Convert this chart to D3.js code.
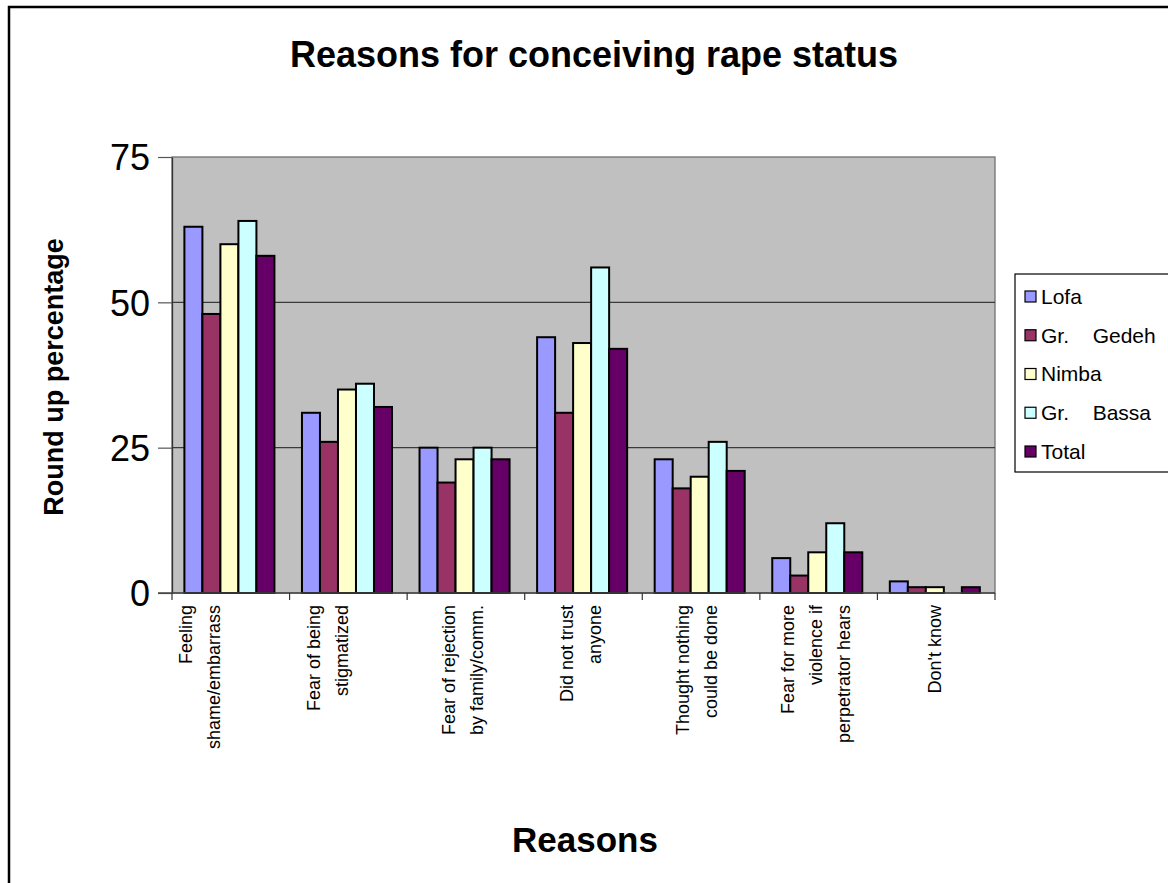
<!DOCTYPE html>
<html>
<head>
<meta charset="utf-8">
<script src="https://cdn.jsdelivr.net/npm/d3@7"></script>
<style>
  html, body { margin: 0; padding: 0; background: #fff; }
  svg { display: block; font-family: "Liberation Sans", Arial, sans-serif; }
</style>
</head>
<body>
<svg id="chart" width="1168" height="883"></svg>
<script>
// Reasons given for not disclosing rape, by county (rounded percentages)
const categories = [
  ["Feeling", "shame/embarrass"],
  ["Fear of being", "stigmatized"],
  ["Fear of rejection", "by family/comm."],
  ["Did not trust", "anyone"],
  ["Thought nothing", "could be done"],
  ["Fear for more", "violence if", "perpetrator hears"],
  ["Don't know"]
];
const seriesNames = ["Lofa", "Gr.  Gedeh", "Nimba", "Gr.  Bassa", "Total"];
const lofa   = [63, 31, 25, 44, 23, 6, 2];
const gedeh  = [48, 26, 19, 31, 18, 3, 1];
const nimba  = [60, 35, 23, 43, 20, 7, 1];
const bassa  = [64, 36, 25, 56, 26, 12, 0];
const total  = [58, 32, 23, 42, 21, 7, 1];
const seriesColors = ["#9999FF", "#993366", "#FFFFCC", "#CCFFFF", "#660066"];
const yTicks = [0, 25, 50, 75];

// horizontal nudge of each wrapped category label block (px)
const labelNudge = [-31, -21, -3, -3, -4, -3, -2];

const seriesValues = [lofa, gedeh, nimba, bassa, total];
const svg = d3.select("#chart");

// outer frame
svg.append("rect")
  .attr("x", 9).attr("y", 7).attr("width", 1180).attr("height", 900)
  .attr("fill", "#fff").attr("stroke", "#000").attr("stroke-width", 2.5);

const plot = { left: 172, right: 995, top: 157, bottom: 593 };

const x0 = d3.scaleBand()
  .domain(d3.range(categories.length))
  .range([plot.left, plot.right])
  .paddingInner(0).paddingOuter(0);

const x1 = d3.scaleBand()
  .domain(d3.range(seriesNames.length))
  .range([0, x0.bandwidth()])
  .paddingInner(0).paddingOuter(0.765).align(0.45);

const y = d3.scaleLinear().domain([0, 75]).range([plot.bottom, plot.top]);

// plot background
svg.append("rect")
  .attr("x", plot.left).attr("y", plot.top)
  .attr("width", plot.right - plot.left).attr("height", plot.bottom - plot.top)
  .attr("fill", "#C0C0C0").attr("stroke", "#707070").attr("stroke-width", 1.3);

// gridlines
svg.append("g").selectAll("line")
  .data(yTicks.filter(t => t > 0 && t < 75))
  .join("line")
  .attr("x1", plot.left).attr("x2", plot.right)
  .attr("y1", d => y(d)).attr("y2", d => y(d))
  .attr("stroke", "#3a3a3a").attr("stroke-width", 1.2);

// y axis
const yAxis = svg.append("g")
  .attr("transform", `translate(${plot.left},0)`)
  .call(d3.axisLeft(y).tickValues(yTicks).tickSize(14).tickPadding(8).tickSizeOuter(0));
yAxis.select(".domain").attr("stroke", "#333").attr("stroke-width", 1.3);
yAxis.selectAll(".tick line").attr("stroke", "#555").attr("stroke-width", 1.2);
yAxis.selectAll(".tick text")
  .attr("font-size", 36).attr("fill", "#000")
  .attr("font-family", "'Liberation Sans', Arial, sans-serif")
  .attr("dy", "0.36em");

// bars
const groups = svg.append("g").selectAll("g")
  .data(categories.map((c, i) => i))
  .join("g")
  .attr("transform", i => `translate(${x0(i)},0)`);

groups.selectAll("rect")
  .data(i => seriesValues.map((vals, s) => ({ s, v: vals[i] })))
  .join("rect")
  .filter(d => d.v > 0)
  .attr("x", d => x1(d.s))
  .attr("width", x1.bandwidth())
  .attr("y", d => y(d.v))
  .attr("height", d => y(0) - y(d.v))
  .attr("fill", d => seriesColors[d.s])
  .attr("stroke", "#000").attr("stroke-width", 2);

// x axis
const xAxis = svg.append("g")
  .attr("transform", `translate(0,${plot.bottom})`);
xAxis.append("line")
  .attr("x1", plot.left - 14).attr("x2", plot.right)
  .attr("stroke", "#444").attr("stroke-width", 1.4);
xAxis.selectAll("line.tick")
  .data(d3.range(categories.length + 1))
  .join("line").attr("class", "tick")
  .attr("x1", i => plot.left + i * x0.step()).attr("x2", i => plot.left + i * x0.step())
  .attr("y1", 0).attr("y2", 7)
  .attr("stroke", "#333").attr("stroke-width", 1.2);

// rotated category labels
const lineGap = 28;
svg.append("g").selectAll("text")
  .data(categories.map((c, i) => ({ c, i })))
  .join("text")
  .attr("font-size", 18)
  .attr("fill", "#000")
  .attr("text-anchor", "end")
  .each(function (d) {
    const cx = x0(d.i) + x0.bandwidth() / 2 + labelNudge[d.i];
    const n = d.c.length;
    d3.select(this).selectAll("tspan")
      .data(d.c)
      .join("tspan")
      .attr("x", -605)
      .attr("y", (t, k) => cx + (k - (n - 1) / 2) * lineGap)
      .attr("dy", "0.35em")
      .text(t => t);
  })
  .attr("transform", "rotate(-90)");

// titles
svg.append("text")
  .attr("x", 594).attr("y", 67)
  .attr("text-anchor", "middle")
  .attr("font-size", 36).attr("font-weight", "bold")
  .text("Reasons for conceiving rape status");

svg.append("text")
  .attr("x", 585).attr("y", 852)
  .attr("text-anchor", "middle")
  .attr("font-size", 35).attr("font-weight", "bold")
  .text("Reasons");

svg.append("text")
  .attr("transform", "translate(63,377) rotate(-90)")
  .attr("text-anchor", "middle")
  .attr("font-size", 27).attr("font-weight", "bold")
  .text("Round up percentage");

// legend
const legend = svg.append("g");
legend.append("rect")
  .attr("x", 1015).attr("y", 274).attr("width", 200).attr("height", 198)
  .attr("fill", "#fff").attr("stroke", "#000").attr("stroke-width", 1.2);
const item = legend.selectAll("g.item")
  .data(seriesNames.map((n, s) => ({ n, s })))
  .join("g").attr("class", "item")
  .attr("transform", d => `translate(1025,${296.5 + d.s * 38.75})`);
item.append("rect")
  .attr("x", 0).attr("y", -5.5).attr("width", 11).attr("height", 11)
  .attr("fill", d => seriesColors[d.s])
  .attr("stroke", "#000").attr("stroke-width", 1.2);
item.append("text")
  .attr("x", 16).attr("dy", "0.35em")
  .attr("font-size", 21)
  .attr("word-spacing", 6)
  .style("white-space", "pre")
  .text(d => d.n);
</script>
</body>
</html>
